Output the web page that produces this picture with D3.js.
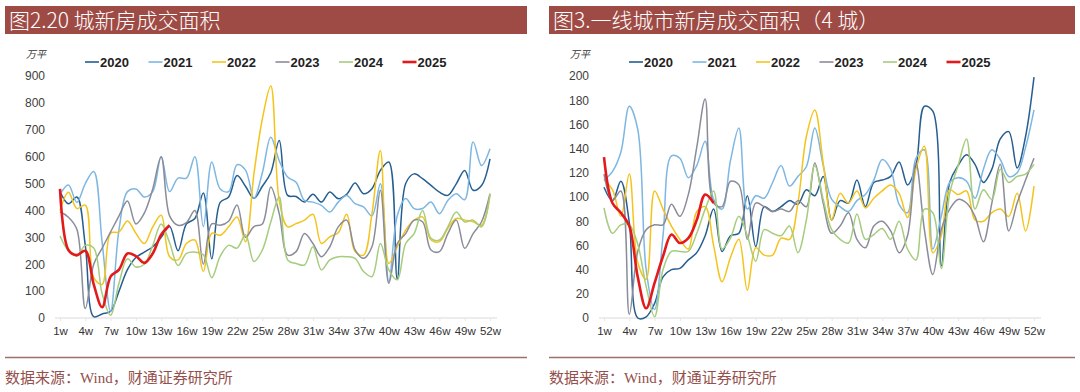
<!DOCTYPE html>
<html>
<head>
<meta charset="utf-8">
<script src="https://cdn.jsdelivr.net/npm/d3@7/dist/d3.min.js"></script>
<style>
  body { margin: 0; background: #fff; }
  svg { display: block; }
</style>
</head>
<body>
<svg id="chart" width="1080" height="392"></svg>
<script>
// week axis
const weeks = d3.range(1, 53);
const weekTicks = d3.range(1, 53, 3);
const years = ["2020", "2021", "2022", "2023", "2024", "2025"];
const colors = ["#255e91", "#7db7e2", "#f4c41c", "#8a8c99", "#a6cc7d", "#e3191c"];

// 图2.20 城新房成交面积 (万平)
const cityArea2020 = [470,425,450,270,5,15,25,100,180,225,245,265,300,340,250,350,370,465,220,430,450,530,490,445,490,540,660,456,452,431,460,431,469,444,460,502,462,481,549,580,145,500,536,518,493,468,456,499,549,475,493,592];
const cityArea2021 = [460,495,430,500,545,280,25,330,470,480,450,470,600,470,520,520,600,340,580,480,470,570,550,445,540,672,585,524,505,437,431,419,394,431,456,425,413,380,499,135,380,444,407,407,431,388,437,462,440,655,567,629];
const cityArea2022 = [400,468,407,420,150,125,315,320,361,315,277,339,382,228,216,277,290,173,315,308,339,376,284,536,740,863,437,339,351,364,386,277,302,317,386,247,234,388,623,203,265,327,364,376,290,284,333,370,364,358,345,456];
const cityArea2023 = [395,375,330,35,200,260,320,380,435,350,390,480,600,380,345,355,400,200,350,345,360,420,300,340,350,487,388,234,247,314,277,228,265,339,364,253,222,265,475,129,277,314,364,358,253,247,314,364,259,314,358,462];
const cityArea2024 = [305,250,230,270,260,90,10,130,220,190,200,270,350,280,195,240,245,235,150,230,270,260,310,210,253,357,450,216,203,197,265,179,216,228,228,222,173,154,277,179,142,277,314,400,296,290,339,394,357,364,339,462];
const cityArea2025 = [480,253,234,250,125,40,154,180,240,230,205,240,310,345];

// 图3.一线城市新房成交面积（4城）(万平)
const tier1Area2020 = [108,97,113,79,0,1,12,34,40,41,48,54,68,90,55,68,70,101,59,92,88,92,97,94,106,101,117,81,97,95,114,92,112,114,117,129,110,126,175,171,43,112,126,135,127,112,123,148,154,124,150,199];
const tier1Area2021 = [114,121,137,175,156,40,7,68,134,132,116,126,146,98,90,130,157,90,101,99,112,126,109,117,125,157,126,98,92,88,97,102,114,131,123,94,87,132,139,57,84,112,116,113,99,123,139,131,117,120,141,172];
const tier1Area2022 = [114,106,84,119,46,32,105,90,76,65,57,88,92,60,30,50,65,23,58,52,52,66,65,95,150,172,128,81,103,95,105,91,99,105,110,103,83,123,142,54,68,106,102,105,81,80,87,90,84,103,72,109];
const tier1Area2023 = [119,97,105,3,55,73,77,77,94,84,102,141,181,95,92,113,110,65,95,92,88,90,88,97,92,128,95,70,76,87,65,58,76,80,72,54,68,128,73,36,73,90,98,95,84,63,95,127,72,95,114,132];
const tier1Area2024 = [91,70,77,77,61,26,1,40,55,55,55,70,90,105,57,66,84,68,47,73,70,68,76,54,81,126,98,73,65,62,86,65,69,74,65,80,57,48,90,87,41,103,126,148,90,106,98,123,112,117,119,127];
const tier1Area2025 = [133,95,87,76,34,8,29,51,69,62,66,81,102,95];

const leftSeries = [cityArea2020, cityArea2021, cityArea2022, cityArea2023, cityArea2024, cityArea2025];
const rightSeries = [tier1Area2020, tier1Area2021, tier1Area2022, tier1Area2023, tier1Area2024, tier1Area2025];

const svg = d3.select("#chart");
const cjk = "'Noto Sans CJK SC', sans-serif";
const latin = "'Liberation Sans', Arial, sans-serif";

function drawPanel(opts) {
  const g = svg.append("g").attr("transform", "translate(" + opts.dx + ",0)");

  // title banner
  g.append("rect")
    .attr("x", 5).attr("y", 6)
    .attr("width", opts.bannerW).attr("height", 28)
    .attr("fill", "#9f4b45");
  g.append("text")
    .attr("x", 9).attr("y", 28)
    .attr("fill", "#fff")
    .style("font-family", cjk)
    .style("font-size", "21px")
    .style("font-weight", 300)
    .text(opts.title);

  const x = d3.scaleLinear().domain([1, 52]).range([60, 490]);
  const y = d3.scaleLinear().domain([0, opts.yMax]).range([318, 76]);

  // unit label
  g.append("text")
    .attr("x", 26).attr("y", 58)
    .attr("fill", "#333")
    .style("font-family", cjk)
    .style("font-size", "10px")
    .style("font-style", "italic")
    .text("万平");

  // y axis labels
  const yAxis = g.append("g")
    .attr("transform", "translate(45,0)")
    .call(d3.axisLeft(y).tickValues(opts.yTicks).tickSize(0).tickPadding(0));
  yAxis.select(".domain").remove();
  yAxis.selectAll("text")
    .attr("fill", "#404040")
    .style("font-family", latin)
    .style("font-size", "12px");

  // x axis
  const xAxis = g.append("g")
    .attr("transform", "translate(0,318)")
    .call(d3.axisBottom(x).tickValues(weekTicks).tickSize(3).tickPadding(6).tickFormat(d => d + "w"));
  xAxis.select(".domain").attr("d", "M55,0H497").attr("stroke", "#d9d9d9");
  xAxis.selectAll(".tick line").attr("stroke", "#e6e6e6");
  xAxis.selectAll("text")
    .attr("fill", "#333")
    .style("font-family", latin)
    .style("font-size", "11.5px");

  // lines
  const line = d3.line()
    .x((d, i) => x(weeks[i]))
    .y(d => y(d))
    .curve(d3.curveCatmullRom.alpha(0.5));

  opts.series.forEach((s, i) => {
    g.append("path")
      .datum(s)
      .attr("fill", "none")
      .attr("stroke", colors[i])
      .attr("stroke-width", i === 5 ? 2.6 : 1.5)
      .attr("d", line);
  });

  // legend
  const legend = g.append("g").attr("transform", "translate(85,62)");
  years.forEach((yr, i) => {
    const item = legend.append("g").attr("transform", "translate(" + (i * 63.5) + ",0)");
    item.append("line")
      .attr("x1", 0).attr("x2", 14)
      .attr("stroke", colors[i])
      .attr("stroke-width", i === 5 ? 2.6 : 1.6);
    item.append("text")
      .attr("x", 15).attr("y", 5)
      .attr("fill", "#222")
      .style("font-family", latin)
      .style("font-size", "13px")
      .style("font-weight", "bold")
      .text(yr);
  });

  // bottom rule & source
  g.append("line")
    .attr("x1", 5).attr("x2", 5 + opts.bannerW)
    .attr("y1", 357.5).attr("y2", 357.5)
    .attr("stroke", "#a0706b").attr("stroke-width", 1.5);
  g.append("text")
    .attr("x", 5).attr("y", 383)
    .attr("fill", "#94504c")
    .style("font-family", "'Liberation Serif', " + cjk)
    .style("font-size", "15px")
    .text("数据来源：Wind，财通证券研究所");
}

drawPanel({
  dx: 0, bannerW: 522,
  title: "图2.20 城新房成交面积",
  yMax: 900, yTicks: d3.range(0, 901, 100),
  series: leftSeries
});

drawPanel({
  dx: 544, bannerW: 526,
  title: "图3.一线城市新房成交面积（4 城）",
  yMax: 200, yTicks: d3.range(0, 201, 20),
  series: rightSeries
});
</script>
</body>
</html>
